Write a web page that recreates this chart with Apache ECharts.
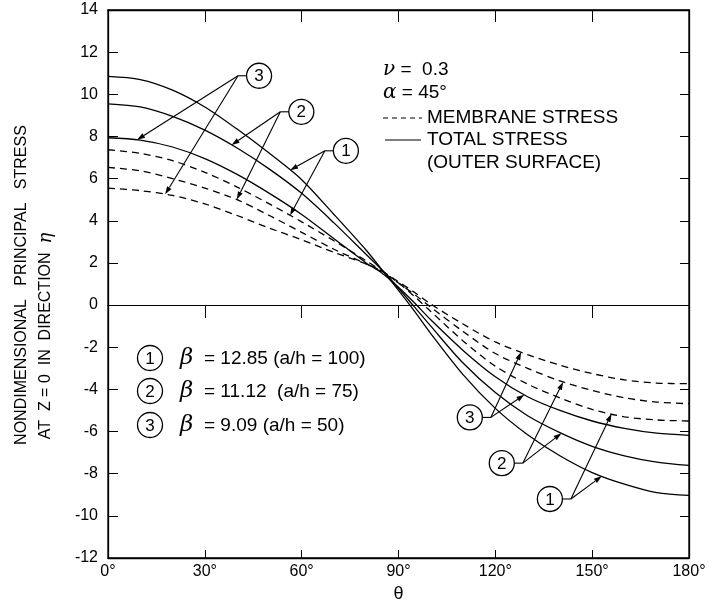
<!DOCTYPE html>
<html>
<head>
<meta charset="utf-8" />
<title>principal stress vs theta</title>
<style>
  html, body { margin: 0; padding: 0; background: #fff; }
  #chartBox { width: 715px; height: 609px; }
</style>
</head>
<body>
<div id="chartBox"></div>
<script src="https://cdn.jsdelivr.net/npm/echarts@6/dist/echarts.min.js"></script>
<script>
// angle theta (deg) and stress values
var theta  = [0, 10, 20, 30, 40, 50, 60, 70, 80, 85, 90, 95, 100, 110, 120, 130, 140, 150, 160, 170, 180];
// total stress (outer surface), solid lines
var total1 = [10.85, 10.7, 10.2, 9.4, 8.35, 7.2, 5.95, 4.3, 2.6, 1.65, 0.7, -0.3, -1.35, -3.3, -4.9, -6.15, -7.15, -7.95, -8.5, -8.9, -9.03];
var total2 = [9.55, 9.4, 8.95, 8.3, 7.45, 6.45, 5.3, 3.9, 2.4, 1.65, 0.8, -0.1, -1.0, -2.75, -4.15, -5.25, -6.05, -6.7, -7.15, -7.45, -7.61];
var total3 = [7.94, 7.83, 7.5, 6.95, 6.2, 5.3, 4.3, 3.15, 2.0, 1.5, 0.85, 0.1, -0.7, -2.15, -3.4, -4.35, -5.0, -5.5, -5.85, -6.08, -6.18];
// membrane stress, dashed lines
var memb1  = [7.37, 7.2, 6.85, 6.3, 5.6, 4.8, 3.95, 3.05, 2.1, 1.6, 1.05, 0.4, -0.3, -1.7, -2.9, -3.75, -4.4, -4.95, -5.3, -5.45, -5.5];
var memb2  = [6.53, 6.37, 6.0, 5.55, 5.0, 4.25, 3.45, 2.65, 1.95, 1.55, 1.05, 0.5, -0.1, -1.25, -2.3, -3.0, -3.6, -4.05, -4.4, -4.6, -4.68];
var memb3  = [5.55, 5.43, 5.2, 4.8, 4.25, 3.65, 3.1, 2.5, 1.95, 1.6, 1.1, 0.6, 0.05, -0.9, -1.75, -2.35, -2.85, -3.25, -3.55, -3.7, -3.73];

var betaRows = [
  { num: '1', text: '= 12.85 (a/h = 100)' },
  { num: '2', text: '= 11.12  (a/h = 75)' },
  { num: '3', text: '= 9.09 (a/h = 50)' }
];

// circled labels: centre in data coords, arrows point to [series, theta]
var callouts = [
  { num: '3', at: [46.8, 10.88], side: -1, to: [['total3', 9], ['memb3', 17.7]] },
  { num: '2', at: [59.9, 9.17], side: -1, to: [['total2', 38.3], ['memb2', 39.9]] },
  { num: '1', at: [73.7, 7.32], side: -1, to: [['total1', 56.4], ['memb1', 56.4]] },
  { num: '3', at: [112.1, -5.33], side: 1, to: [['total3', 129], ['memb3', 128]] },
  { num: '2', at: [122, -7.5], side: 1, to: [['total2', 140.5], ['memb2', 141]] },
  { num: '1', at: [136.9, -9.2], side: 1, to: [['total1', 153], ['memb1', 156]] }
];

var seriesData = { total1: total1, total2: total2, total3: total3, memb1: memb1, memb2: memb2, memb3: memb3 };
var font = '"Liberation Sans", Arial, sans-serif';

function pairs(xs, ys) {
  var out = [];
  for (var i = 0; i < xs.length; i++) out.push([xs[i], ys[i]]);
  return out;
}
function valueAt(ys, t) {
  for (var i = 0; i < theta.length - 1; i++) {
    if (t >= theta[i] && t <= theta[i + 1]) {
      var f = (t - theta[i]) / (theta[i + 1] - theta[i]);
      return ys[i] + f * (ys[i + 1] - ys[i]);
    }
  }
  return ys[ys.length - 1];
}
function lineSeries(name, type) {
  return {
    name: name,
    type: 'line',
    xAxisIndex: 0,
    yAxisIndex: 0,
    data: pairs(theta, seriesData[name]),
    smooth: 0.3,
    showSymbol: false,
    silent: true,
    lineStyle: { color: '#000', width: 1.3, type: type }
  };
}

var myChart = echarts.init(document.getElementById('chartBox'));
var gridPos = { left: 108, right: 26, top: 10, bottom: 51 };
var option = {
  backgroundColor: '#fff',
  animation: false,
  textStyle: { fontFamily: font, color: '#000' },
  grid: [
    Object.assign({ show: true, borderColor: '#000', borderWidth: 1.3 }, gridPos),
    Object.assign({}, gridPos)
  ],
  xAxis: [
    {
      gridIndex: 0, type: 'value', position: 'bottom', min: 0, max: 180, interval: 30,
      axisLine: { onZero: false, lineStyle: { color: '#000', width: 1.3 } },
      axisTick: { inside: true, length: 8, lineStyle: { color: '#000' } },
      axisLabel: { formatter: '{value}°', fontSize: 16, color: '#000', margin: 6, fontFamily: font },
      splitLine: { show: false },
      name: 'θ', nameLocation: 'middle', nameGap: 23,
      nameTextStyle: { fontSize: 18, color: '#000', fontFamily: font }
    },
    {
      gridIndex: 0, type: 'value', position: 'top', min: 0, max: 180, interval: 30,
      axisLine: { onZero: false, lineStyle: { color: '#000', width: 1.3 } },
      axisTick: { inside: true, length: 12, lineStyle: { color: '#000' } },
      axisLabel: { show: false },
      splitLine: { show: false }
    },
    {
      // zero line with ticks hanging below it
      gridIndex: 1, type: 'value', position: 'bottom', min: 0, max: 180, interval: 30,
      axisLine: { onZero: true, lineStyle: { color: '#000', width: 1.2 } },
      axisTick: { inside: false, length: 13, lineStyle: { color: '#000' } },
      axisLabel: { show: false },
      splitLine: { show: false }
    }
  ],
  yAxis: [
    {
      gridIndex: 0, type: 'value', position: 'left', min: -12, max: 14, interval: 2,
      axisLine: { show: true, onZero: false, lineStyle: { color: '#000', width: 1.3 } },
      axisTick: { show: true, inside: true, length: 10, lineStyle: { color: '#000' } },
      axisLabel: { fontSize: 16, color: '#000', margin: 10, fontFamily: font },
      splitLine: { show: false }
    },
    {
      gridIndex: 0, type: 'value', position: 'right', min: -12, max: 14, interval: 2,
      axisLine: { show: true, onZero: false, lineStyle: { color: '#000', width: 1.3 } },
      axisTick: { show: true, inside: true, length: 9, lineStyle: { color: '#000' } },
      axisLabel: { show: false },
      splitLine: { show: false }
    },
    {
      gridIndex: 1, type: 'value', show: false, min: -12, max: 14, interval: 2,
      axisLine: { onZero: false }
    }
  ],
  series: [
    lineSeries('total1', 'solid'),
    lineSeries('total2', 'solid'),
    lineSeries('total3', 'solid'),
    lineSeries('memb1', [7, 5]),
    lineSeries('memb2', [7, 5]),
    lineSeries('memb3', [7, 5])
  ]
};
myChart.setOption(option);

// ---- annotations ----
function arrow(p0, p1) {
  var dx = p1[0] - p0[0], dy = p1[1] - p0[1];
  var len = Math.sqrt(dx * dx + dy * dy), ux = dx / len, uy = dy / len;
  var hl = 8, hw = 2.6;
  var base = [p1[0] - ux * hl, p1[1] - uy * hl];
  return [
    { type: 'line', silent: true, shape: { x1: p0[0], y1: p0[1], x2: base[0], y2: base[1] }, style: { stroke: '#000', lineWidth: 1.1 } },
    { type: 'polygon', silent: true, shape: { points: [p1, [base[0] - uy * hw, base[1] + ux * hw], [base[0] + uy * hw, base[1] - ux * hw]] }, style: { fill: '#000' } }
  ];
}
function circled(cx, cy, num) {
  return [
    { type: 'circle', silent: true, shape: { cx: cx, cy: cy, r: 12.5 }, style: { fill: '#fff', stroke: '#000', lineWidth: 1.3 } },
    { type: 'text', silent: true, x: cx, y: cy + 1, style: { text: num, font: '17px ' + font, fill: '#000', align: 'center', verticalAlign: 'middle' } }
  ];
}

var g = [];
callouts.forEach(function (c) {
  var ctr = myChart.convertToPixel({ gridIndex: 0 }, c.at);
  var edge = [ctr[0] + c.side * 12.5, ctr[1]];
  var node = [ctr[0] + c.side * 21, ctr[1]];
  g.push({ type: 'line', silent: true, shape: { x1: edge[0], y1: edge[1], x2: node[0], y2: node[1] }, style: { stroke: '#000', lineWidth: 1.1 } });
  c.to.forEach(function (t) {
    var tip = myChart.convertToPixel({ gridIndex: 0 }, [t[1], valueAt(seriesData[t[0]], t[1])]);
    g = g.concat(arrow(node, tip));
  });
  g = g.concat(circled(ctr[0], ctr[1], c.num));
});

// beta legend, lower left
betaRows.forEach(function (r, i) {
  var y = [358, 391, 425][i];
  g = g.concat(circled(150, y, r.num));
  g.push({ type: 'text', silent: true, x: 180, y: y, style: { text: 'β', font: 'italic 23px "DejaVu Serif", serif', fill: '#000', verticalAlign: 'middle' } });
  g.push({ type: 'text', silent: true, x: 204, y: y + 1, style: { text: r.text, font: '19px ' + font, fill: '#000', verticalAlign: 'middle' } });
});

// parameter legend, upper right
var legFont = '19px ' + font;
var italicRich = { i: { font: 'italic 20px "DejaVu Serif", serif' } };
g.push({ type: 'text', silent: true, x: 383, y: 70, style: { text: '{i|ν} =  0.3', font: legFont, fill: '#000', verticalAlign: 'middle', rich: italicRich } });
g.push({ type: 'text', silent: true, x: 383, y: 93, style: { text: '{i|α} = 45°', font: legFont, fill: '#000', verticalAlign: 'middle', rich: italicRich } });
g.push({ type: 'line', silent: true, shape: { x1: 383, y1: 118, x2: 422, y2: 118 }, style: { stroke: '#000', lineWidth: 1.2, lineDash: [5, 4] } });
g.push({ type: 'text', silent: true, x: 427, y: 118, style: { text: 'MEMBRANE STRESS', font: legFont, fill: '#000', verticalAlign: 'middle' } });
g.push({ type: 'line', silent: true, shape: { x1: 385, y1: 140, x2: 421, y2: 140 }, style: { stroke: '#000', lineWidth: 1.2 } });
g.push({ type: 'text', silent: true, x: 427, y: 140, style: { text: 'TOTAL STRESS', font: legFont, fill: '#000', verticalAlign: 'middle' } });
g.push({ type: 'text', silent: true, x: 427, y: 163, style: { text: '(OUTER SURFACE)', font: legFont, fill: '#000', verticalAlign: 'middle' } });

// y axis title, two rotated lines
g.push({ type: 'text', silent: true, x: 22, y: 285, rotation: Math.PI / 2, style: { text: 'NONDIMENSIONAL   PRINCIPAL   STRESS', font: '16px ' + font, fill: '#000', align: 'center', verticalAlign: 'middle' } });
g.push({ type: 'text', silent: true, x: 46, y: 336, rotation: Math.PI / 2, style: { text: 'AT  Z = 0  IN  DIRECTION  {i|η}', font: '16px ' + font, fill: '#000', align: 'center', verticalAlign: 'middle', rich: { i: { font: 'italic 18px "DejaVu Serif", serif' } } } });

myChart.setOption({ graphic: g });
</script>
</body>
</html>
